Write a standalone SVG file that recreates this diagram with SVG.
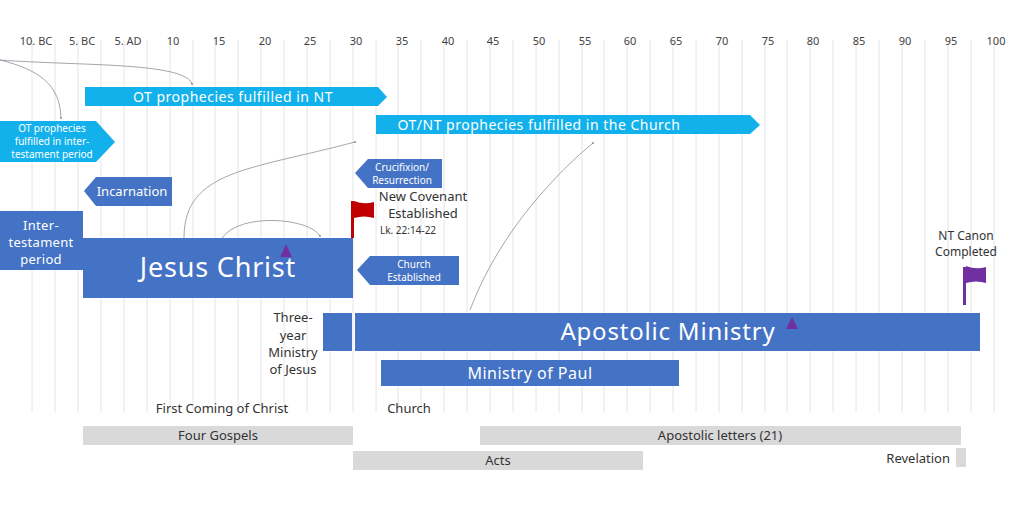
<svg xmlns="http://www.w3.org/2000/svg" width="1024" height="512" viewBox="0 0 1024 512">
<style>
text{font-family:"Noto Sans","Open Sans",sans-serif;}
.tick{font-size:11px;fill:#444;text-anchor:middle}
.cy{fill:#13b1ec}
.bl{fill:#4472c4}
.gr{fill:#d9d9d9}
.w{fill:#fff;text-anchor:middle}
.k{fill:#333;text-anchor:middle}
.c{fill:none;stroke:#8a8f99;stroke-width:0.8}
</style>
<defs><marker id="d" markerWidth="3" markerHeight="3" refX="1.5" refY="1.5"><circle cx="1.5" cy="1.5" r="1" fill="#555"/></marker></defs>
<rect width="1024" height="512" fill="#fff"/>
<g id="grid" stroke="#e4e4e8" stroke-width="1">
<path d="M32 40V412M55 40V412M78 40V412M101 40V412M124 40V412M147 40V412M170 40V412M193 40V412M215 40V412M238 40V412M261 40V412M284 40V412M307 40V412M330 40V412M353 40V412M376 40V412M398 40V412M421 40V412M444 40V412M467 40V412M490 40V412M513 40V412M536 40V412M559 40V412M582 40V412M604 40V412M627 40V412M650 40V412M673 40V412M696 40V412M719 40V412M742 40V412M765 40V412M787 40V412M810 40V412M833 40V412M856 40V412M879 40V412M902 40V412M925 40V412M948 40V412M971 40V412M994 40V412"/>
</g>
<g id="ticks">
<text class="tick" x="36" y="45">10. BC</text><text class="tick" x="82" y="45">5. BC</text><text class="tick" x="128" y="45">5. AD</text><text class="tick" x="173" y="45">10</text><text class="tick" x="219" y="45">15</text><text class="tick" x="265" y="45">20</text><text class="tick" x="310" y="45">25</text><text class="tick" x="356" y="45">30</text><text class="tick" x="402" y="45">35</text><text class="tick" x="448" y="45">40</text><text class="tick" x="493" y="45">45</text><text class="tick" x="539" y="45">50</text><text class="tick" x="585" y="45">55</text><text class="tick" x="630" y="45">60</text><text class="tick" x="676" y="45">65</text><text class="tick" x="722" y="45">70</text><text class="tick" x="768" y="45">75</text><text class="tick" x="813" y="45">80</text><text class="tick" x="859" y="45">85</text><text class="tick" x="905" y="45">90</text><text class="tick" x="951" y="45">95</text><text class="tick" x="996" y="45">100</text>
</g>
<g id="connectors">
<path class="c" d="M0 60C80 66 185 62 192 84" marker-end="url(#d)"/>
<path class="c" d="M0 60C40 70 60 85 61 118" marker-end="url(#d)"/>
<path class="c" d="M184 238C184 170 250 170 355 142" marker-end="url(#d)"/>
<path class="c" d="M222 238C240 212 310 218 320 236" marker-end="url(#d)"/>
<path class="c" d="M470 310C500 230 560 170 593 143" marker-end="url(#d)"/>
</g>
<g id="ot-nt"><path class="cy" d="M85 87H378L387 97L378 106H85Z"/><text class="w" x="233" y="102" font-size="14" letter-spacing="0.5">OT prophecies fulfilled in NT</text></g>
<g id="otnt-church"><path class="cy" d="M376 115H750L760 125L750 134H376Z"/><text class="w" x="539" y="130" font-size="14" letter-spacing="0.5">OT/NT prophecies fulfilled in the Church</text></g>
<g id="ot-inter"><path class="cy" d="M0 121H96L115 142L96 162H0Z"/><text class="w" font-size="10"><tspan x="52" y="132">OT prophecies</tspan><tspan x="52" y="145">fulfilled in inter-</tspan><tspan x="52" y="158">testament period</tspan></text></g>
<g id="incarnation"><path class="bl" d="M84 191L96 177H172V206H96Z"/><text class="w" x="132" y="196" font-size="13">Incarnation</text></g>
<g id="intertestament"><rect class="bl" x="0" y="211" width="83" height="59"/><text class="w" font-size="13" letter-spacing="0.3"><tspan x="41" y="230">Inter-</tspan><tspan x="41" y="247">testament</tspan><tspan x="41" y="264">period</tspan></text></g>
<g id="jesus"><rect class="bl" x="83" y="238" width="270" height="60"/><text class="w" x="218" y="277" font-size="27" letter-spacing="0.8">Jesus Christ</text><path d="M286 244L292 257H280Z" fill="#7030a0"/></g>
<g id="crucifixion"><path class="bl" d="M355 173L368 159H442V188H368Z"/><text class="w" font-size="10"><tspan x="402" y="171">Crucifixion/</tspan><tspan x="402" y="184">Resurrection</tspan></text></g>
<g id="church-est"><path class="bl" d="M357 270L370 256H459V285H370Z"/><text class="w" font-size="10"><tspan x="414" y="268">Church</tspan><tspan x="414" y="281">Established</tspan></text></g>
<g id="new-covenant"><rect x="351" y="201" width="3" height="37" fill="#c00000"/><path d="M354 201Q364 205 374 202V218Q364 215 354 218Z" fill="#c00000"/><text class="k" font-size="13"><tspan x="423" y="201">New Covenant</tspan><tspan x="423" y="218">Established</tspan></text><text x="380" y="234" font-size="10" fill="#333">Lk. 22:14-22</text></g>
<g id="three-year"><rect class="bl" x="323" y="313" width="29" height="38"/><text class="k" font-size="13"><tspan x="293" y="322">Three-</tspan><tspan x="293" y="340">year</tspan><tspan x="293" y="357">Ministry</tspan><tspan x="293" y="374">of Jesus</tspan></text></g>
<g id="apostolic"><rect class="bl" x="355" y="313" width="625" height="38"/><text class="w" x="668" y="340" font-size="24" letter-spacing="0.8">Apostolic Ministry</text><path d="M792 317L798 329H786Z" fill="#7030a0"/></g>
<g id="paul"><rect class="bl" x="381" y="360" width="298" height="26"/><text class="w" x="530" y="379" font-size="16" letter-spacing="0.5">Ministry of Paul</text></g>
<g id="canon"><text class="k" font-size="12"><tspan x="966" y="240">NT Canon</tspan><tspan x="966" y="256">Completed</tspan></text><rect x="963" y="267" width="3" height="38" fill="#7030a0"/><path d="M966 266Q976 270 986 267V283Q976 280 966 283Z" fill="#7030a0"/></g>
<g id="labels"><text class="k" x="222" y="413" font-size="13">First Coming of Christ</text><text class="k" x="409" y="413" font-size="13">Church</text></g>
<g id="gospels"><rect class="gr" x="83" y="426" width="270" height="19"/><text class="k" x="218" y="440" font-size="13">Four Gospels</text></g>
<g id="letters"><rect class="gr" x="480" y="426" width="481" height="19"/><text class="k" x="720" y="440" font-size="13">Apostolic letters (21)</text></g>
<g id="acts"><rect class="gr" x="353" y="451" width="290" height="19"/><text class="k" x="498" y="465" font-size="13">Acts</text></g>
<g id="revelation"><rect class="gr" x="956" y="448" width="10" height="19"/><text x="950" y="463" font-size="13" fill="#333" text-anchor="end">Revelation</text></g>
</svg>
